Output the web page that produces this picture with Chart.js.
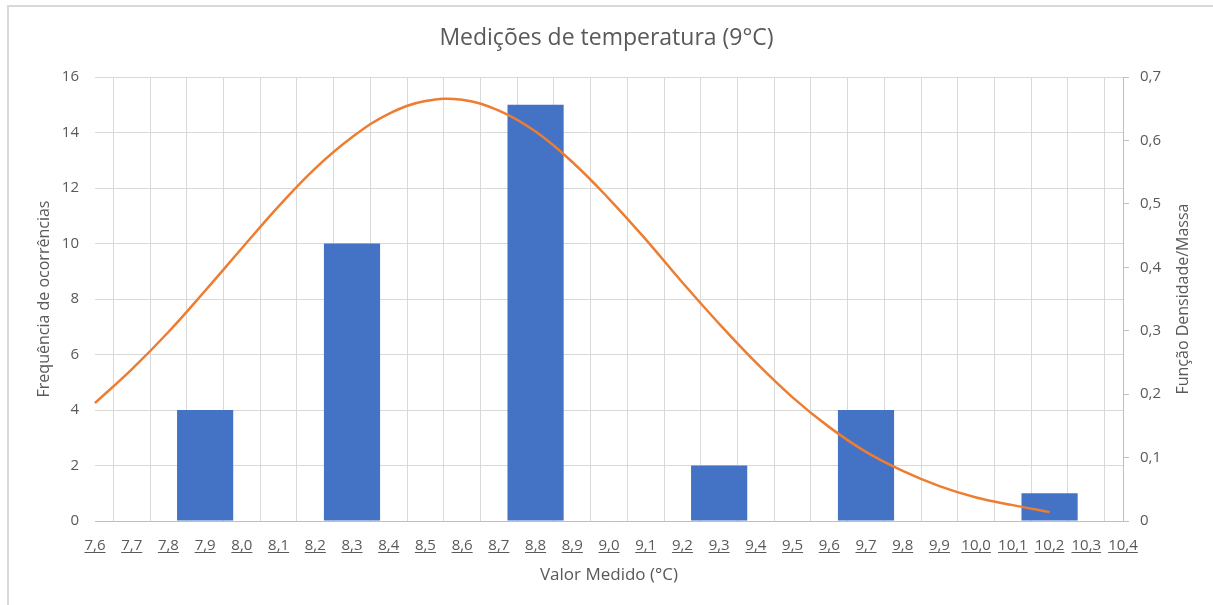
<!DOCTYPE html>
<html>
<head>
<meta charset="utf-8">
<script src="https://cdn.jsdelivr.net/npm/chart.js@4.4.1/dist/chart.umd.min.js"></script>
<style>
  html, body { margin: 0; padding: 0; background: #fff; }
  #wrap { position: relative; width: 1213px; height: 605px; }
  #frame { position: absolute; left: 7px; top: 5px; right: -10px; bottom: -10px;
           border-top: 2px solid #d9d9d9; border-left: 2px solid #d9d9d9; pointer-events: none; }
  canvas { position: absolute; left: 0; top: 0; }
</style>
</head>
<body>
<div id="wrap">
  <canvas id="HistChart" width="1213" height="605"></canvas>
  <div id="frame"></div>
</div>
<script>
// categories (°C)
var labels = ["7,6","7,7","7,8","7,9","8,0","8,1","8,2","8,3","8,4","8,5","8,6","8,7","8,8","8,9","9,0",
              "9,1","9,2","9,3","9,4","9,5","9,6","9,7","9,8","9,9","10,0","10,1","10,2","10,3","10,4"];

// frequency of occurrences (bars)
var frequencia = [null,null,null,4,null,null,null,10,null,null,null,null,15,null,null,
                  null,null,2,null,null,null,4,null,null,null,null,1,null,null];

// density function (line, right axis)
var densidade = [0.186,0.239,0.298,0.363,0.430,0.496,0.556,0.605,0.642,0.662,0.664,0.647,0.614,0.566,0.508,
                 0.444,0.376,0.311,0.250,0.195,0.148,0.109,0.079,0.055,0.037,0.025,0.014,null,null];

var fontFamily = "'Open Sans', sans-serif";
var textColor = "#595959";

// underline the x tick labels and draw the right axis title bottom-to-top, like the original
var extrasPlugin = {
  id: "extras",
  afterDraw: function(chart) {
    var xs = chart.scales.x;
    var y2 = chart.scales.y2;
    var ctx = chart.ctx;
    ctx.save();
    ctx.font = "15px " + fontFamily;
    ctx.strokeStyle = textColor;
    ctx.lineWidth = 1;
    var y = xs.top + 31;
    xs.ticks.forEach(function(t, i) {
      var px = xs.getPixelForTick(i);
      var w = ctx.measureText(labels[i]).width;
      ctx.beginPath();
      ctx.moveTo(px - w / 2, y + 0.5);
      ctx.lineTo(px + w / 2, y + 0.5);
      ctx.stroke();
    });
    ctx.translate(1183, (y2.top + y2.bottom) / 2);
    ctx.rotate(-Math.PI / 2);
    ctx.font = "16px " + fontFamily;
    ctx.fillStyle = textColor;
    ctx.textAlign = "center";
    ctx.textBaseline = "middle";
    ctx.fillText("Função Densidade/Massa", 0, 0);
    ctx.restore();
  }
};

var ctx = document.getElementById("HistChart").getContext("2d");
var hist_chart = new Chart(ctx, {
  type: "bar",
  data: {
    labels: labels,
    datasets: [
      {
        type: "line",
        label: "Função Densidade/Massa",
        data: densidade,
        yAxisID: "y2",
        borderColor: "#ED7D31",
        borderWidth: 2.5,
        pointRadius: 0,
        fill: false,
        tension: 0.4,
        order: 0
      },
      {
        label: "Frequência de ocorrências",
        data: frequencia,
        yAxisID: "y",
        backgroundColor: "#4472C4",
        borderWidth: 0,
        barPercentage: 1,
        categoryPercentage: 1.53,
        grouped: false,
        order: 1
      }
    ]
  },
  options: {
    responsive: false,
    animation: false,
    layout: { padding: 0 },
    plugins: {
      legend: { display: false },
      tooltip: { enabled: false },
      title: {
        display: true,
        text: "Medições de temperatura (9°C)",
        color: textColor,
        font: { family: fontFamily, size: 23, weight: "normal" },
        padding: { top: 25, bottom: 24.4 }
      }
    },
    scales: {
      x: {
        offset: false,
        grid: { color: "#d9d9d9", drawTicks: false, tickLength: 0 },
        border: { color: "#bfbfbf" },
        ticks: { color: textColor, font: { family: fontFamily, size: 15 }, padding: 16, maxRotation: 0, autoSkip: false },
        title: { display: true, text: "Valor Medido (°C)", color: textColor,
                 font: { family: fontFamily, size: 17 }, padding: { top: 0, bottom: 20 } },
        afterFit: function(s) { s.height = 84; }
      },
      y: {
        position: "left",
        min: 0, max: 16,
        grid: { color: "#d9d9d9", drawTicks: false, tickLength: 0 },
        border: { display: false },
        ticks: { stepSize: 2, color: textColor, font: { family: fontFamily, size: 15 }, padding: 16 },
        title: { display: true, text: "Frequência de ocorrências", color: textColor,
                 font: { family: fontFamily, size: 16 }, padding: { top: 35, bottom: 0 } },
        afterFit: function(s) { s.width = 95; }
      },
      y2: {
        position: "right",
        min: 0, max: 0.7,
        grid: { drawOnChartArea: false, color: "#bfbfbf", tickLength: 6 },
        border: { color: "#bfbfbf" },
        ticks: { stepSize: 0.1, color: textColor, font: { family: fontFamily, size: 15 }, padding: 11,
                 callback: function(v) { return v === 0 ? "0" : v.toFixed(1).replace(".", ","); } },
        title: { display: false },
        afterFit: function(s) { s.width = 90; }
      }
    }
  },
  plugins: [extrasPlugin]
});
</script>
</body>
</html>
